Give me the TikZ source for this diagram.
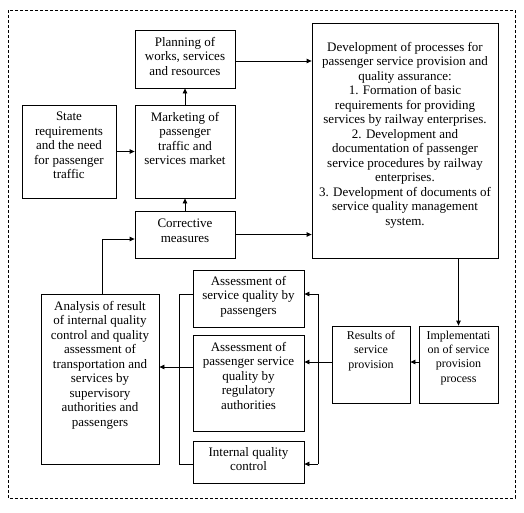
\documentclass[tikz,border=0pt]{standalone}
\usepackage{fontspec}
\setmainfont{Liberation Serif}
\usetikzlibrary{arrows.meta}
\newcommand\boxtext[4]{\parbox[c][#2][t]{#1}{\centering\vspace*{#3}#4\par}}
\begin{document}
\begin{tikzpicture}[x=1pt,y=-1pt,
  blk/.style={draw, line width=0.8pt, inner sep=0pt, font=\fontsize{13}{14.5}\selectfont},
  sblk/.style={blk, font=\fontsize{12}{14.3}\selectfont},
  arr/.style={line width=0.8pt, -{Triangle[length=5pt,width=4.5pt]}},
  ln/.style={line width=0.8pt}]
\useasboundingbox (0,0) rectangle (524,512);
\draw[line width=0.8pt, dash pattern=on 3pt off 2pt] (8,10) rectangle (515,498);

\node[blk] (plan) at (185,59) {\boxtext{100pt}{58pt}{7pt}{Planning of\\works, services\\and resources}};
\node[blk] (mkt) at (185,151.5) {\boxtext{100pt}{93pt}{7pt}{Marketing of\\passenger\\traffic and\\services market}};
\node[blk] (state) at (69,151.5) {\boxtext{94pt}{93pt}{7pt}{State\\requirements\\and the need\\for passenger\\traffic}};
\node[blk] (corr) at (185,234.5) {\boxtext{100pt}{47pt}{8pt}{Corrective\\measures}};
\node[blk] (dev) at (405,140.5) {\boxtext{186pt}{235pt}{19pt}{Development of processes for\\passenger service provision and\\quality assurance:\\1. Formation of basic\\requirements for providing\\services by railway enterprises.\\2. Development and\\documentation of passenger\\service procedures by railway\\enterprises.\\3. Development of documents of\\service quality management\\system.}};
\node[blk] (as1) at (248.5,298.5) {\boxtext{111pt}{57pt}{6pt}{Assessment of\\service quality by\\passengers}};
\node[blk] (as2) at (248.5,383) {\boxtext{111pt}{96pt}{7pt}{Assessment of\\passenger service\\quality by\\regulatory\\authorities}};
\node[blk] (intq) at (248.5,462) {\boxtext{111pt}{42pt}{6pt}{Internal quality\\control}};
\node[blk] (anal) at (100,379) {\boxtext{118pt}{170pt}{7pt}{Analysis of result\\of internal quality\\control and quality\\assessment of\\transportation and\\services by\\supervisory\\authorities and\\passengers}};
\node[sblk] (res) at (371,364.5) {\boxtext{78pt}{77pt}{5pt}{Results of\\service\\provision}};
\node[sblk] (impl) at (458.5,364.5) {\boxtext{79pt}{77pt}{5pt}{Implementati\\on of service\\provision\\process}};

% top part
\draw[arr] (mkt.north) -- (plan.south);
\draw[arr] (corr.north) -- (mkt.south);
\draw[arr] (state.east) -- (mkt.west);
\draw[arr] ([yshift=-2pt]plan.east) -- ([yshift=-2pt]plan.east -| dev.west);
\draw[arr] (corr.east) -- (corr.east -| dev.west);
\draw[arr] (dev.south -| impl.north) -- (impl.north);
\draw[arr] ([yshift=2.5pt]impl.west) -- ([yshift=2.5pt]res.east);
\draw[arr] ([yshift=2.5pt]res.west) -- ([yshift=2.5pt]res.west -| as2.east);

% right bus
\coordinate (rt) at (318,294);
\coordinate (rb) at (318,464);
\draw[ln] (rt) -- (rb);
\draw[arr] (rt) -- (rt -| as1.east);
\draw[arr] (rb) -- (rb -| intq.east);

% left bus
\coordinate (lt) at (179,294);
\coordinate (lb) at (179,464);
\draw[ln] (lt -| as1.west) -- (lt) -- (lb) -- (lb -| intq.west);
\coordinate (ay) at (0,367);
\draw[arr] (as2.west |- ay) -- (anal.east |- ay);

% feedback
\coordinate (ct) at (102,239);
\draw[arr] (anal.north -| ct) -- (ct) -- (ct -| corr.west);
\end{tikzpicture}
\end{document}
